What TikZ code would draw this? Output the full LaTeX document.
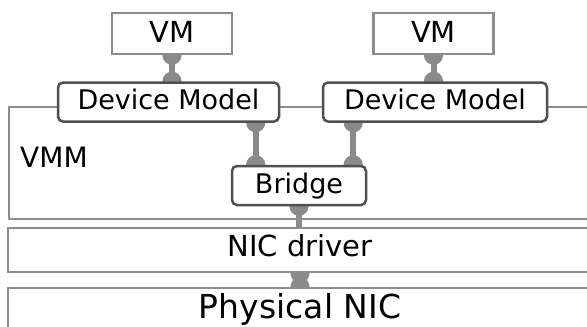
\documentclass[tikz,border=0pt]{standalone}
\usepackage{fontspec}
\setmainfont{DejaVu Sans}
\definecolor{frameGray}{HTML}{8C8C8C}
\definecolor{boxDark}{HTML}{505050}
\definecolor{linkGray}{HTML}{8A8A8A}
\usepackage{tikz}
\usetikzlibrary{arrows.meta, backgrounds}

\begin{document}
\begin{tikzpicture}[
    x=1pt, y=-1pt,
    layer/.style={rectangle, draw=frameGray, line width=2pt,
                  minimum width=584pt, inner sep=0pt},
    vmbox/.style={rectangle, draw=frameGray, fill=white, line width=2.5pt,
                  minimum width=120pt, inner sep=0pt, text height=29pt,
                  text depth=12pt, font=\fontsize{29pt}{34pt}\selectfont},
    module/.style={rectangle, draw=boxDark, fill=white, rounded corners=5pt,
                   line width=2.5pt, inner sep=0pt, text height=27pt,
                   text depth=12pt, font=\fontsize{27pt}{32pt}\selectfont},
    link/.style={draw=linkGray, line width=6pt,
                 {Circle[length=19pt,width=19pt]}-{Circle[length=19pt,width=19pt]},
                 shorten <=-9.5pt, shorten >=-9.5pt}
  ]
    \useasboundingbox (0,0) rectangle (587,327);

    \node[layer, anchor=north west, minimum height=112pt] (vmm) at (8,106) {};
    \node[anchor=base west, inner sep=0pt, font=\fontsize{28pt}{34pt}\selectfont]
      (vmmlbl) at (20,167) {VMM};
    \node[layer, fill=white, anchor=north, text height=28pt, text depth=16pt,
          font=\fontsize{29pt}{34pt}\selectfont] (drv) at (300,227) {NIC driver};
    \node[layer, fill=white, anchor=north, text height=30pt, text depth=50pt,
          font=\fontsize{33pt}{40pt}\selectfont] (phys) at (300,287) {Physical NIC};

    \node[vmbox] (vm1) at (172,33.5) {VM};
    \node[vmbox] (vm2) at (433.5,33.5) {VM};
    \node[module, minimum width=221pt] (dm1) at (168.5,102) {Device Model};
    \node[module, minimum width=224pt] (dm2) at (435,102) {Device Model};
    \node[module, minimum width=134pt] (brg) at (299,185.5) {Bridge};

    \coordinate (lnkL) at ([xshift=25pt]brg.north west);
    \coordinate (lnkR) at ([xshift=-14pt]brg.north east);

    \begin{scope}[on background layer]
      \draw[link] (vm1.south) -- (vm1.south |- dm1.north);
      \draw[link] (vm2.south) -- (vm2.south |- dm2.north);
      \draw[link] (lnkL |- dm1.south) -- (lnkL);
      \draw[link] (lnkR |- dm2.south) -- (lnkR);
      \draw[link, {Circle[length=19pt,width=19pt]}-, shorten >=0pt]
        (brg.south) -- (brg.south |- drv.north);
      \draw[link] (drv.south) -- (phys.north);
    \end{scope}
  \end{tikzpicture}
\end{document}
